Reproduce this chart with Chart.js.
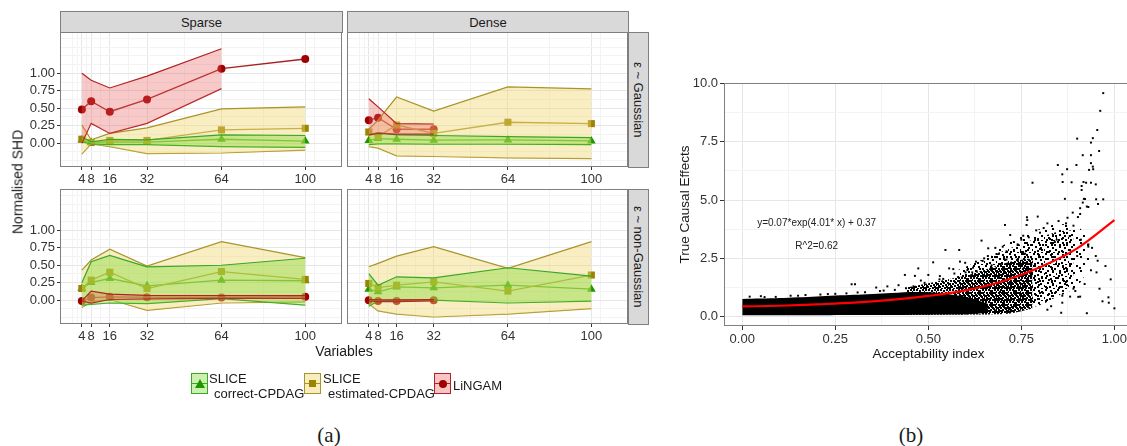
<!DOCTYPE html>
<html><head><meta charset="utf-8">
<script src="https://cdn.jsdelivr.net/npm/chart.js@4.4.1/dist/chart.umd.min.js"></script>
<style>
html,body{margin:0;padding:0;width:1127px;height:446px;overflow:hidden;background:#fff;font-family:'Liberation Sans',Arial,sans-serif;}
.box{position:absolute;}
canvas{display:block;}
.strip{position:absolute;background:#d9d9d9;border:1px solid #7f7f7f;box-sizing:border-box;color:#1a1a1a;font-size:13px;display:flex;align-items:center;justify-content:center;}
.vstrip{writing-mode:vertical-rl;}
.txt{position:absolute;color:#1a1a1a;white-space:nowrap;line-height:15px;}
.key{position:absolute;width:17px;height:21px;box-sizing:border-box;}
.kline{position:absolute;left:0;right:0;top:9px;height:1.3px;}
</style></head><body>

<div class="strip" style="left:60px;top:11px;width:283px;height:22px;">Sparse</div>
<div class="strip" style="left:347px;top:11px;width:282px;height:22px;">Dense</div>
<div class="strip vstrip" style="left:628px;top:32px;width:21px;height:136px;">ε ~ Gaussian</div>
<div class="strip vstrip" style="left:628px;top:189px;width:21px;height:136px;">ε ~ non-Gaussian</div>

<div class="box" style="left:20px;top:32px;"><canvas id="pTL" width="322" height="157"></canvas></div>
<div class="box" style="left:347px;top:32px;"><canvas id="pTR" width="281" height="157"></canvas></div>
<div class="box" style="left:20px;top:189px;"><canvas id="pBL" width="322" height="157"></canvas></div>
<div class="box" style="left:347px;top:189px;"><canvas id="pBR" width="281" height="157"></canvas></div>

<div class="txt" style="left:18px;top:182px;font-size:14px;transform:translate(-50%,-50%) rotate(-90deg);">Normalised SHD</div>
<div class="txt" style="left:344px;top:351px;font-size:14px;transform:translate(-50%,-50%);">Variables</div>

<!-- legend -->
<div class="key" style="left:191px;top:373px;border:1px solid #3aa628;background:rgba(120,215,40,0.38);">
  <div class="kline" style="background:#3aa628;"></div>
  <div style="position:absolute;left:3px;top:5px;width:0;height:0;border-left:5px solid transparent;border-right:5px solid transparent;border-bottom:9px solid #1e9600;"></div>
</div>
<div class="txt" style="left:209px;top:371px;font-size:13px;">SLICE</div>
<div class="txt" style="left:214px;top:386px;font-size:13px;">correct-CPDAG</div>

<div class="key" style="left:304px;top:373px;border:1px solid #a99428;background:rgba(240,215,110,0.45);">
  <div class="kline" style="background:#a99428;"></div>
  <div style="position:absolute;left:4px;top:6px;width:7px;height:7px;background:#9c8300;"></div>
</div>
<div class="txt" style="left:323px;top:371px;font-size:13px;">SLICE</div>
<div class="txt" style="left:328px;top:386px;font-size:13px;">estimated-CPDAG</div>

<div class="key" style="left:434px;top:373px;border:1px solid #b22222;background:rgba(235,90,90,0.35);">
  <div class="kline" style="background:#b22222;"></div>
  <div style="position:absolute;left:3.5px;top:5.5px;width:8px;height:8px;border-radius:50%;background:#a00000;"></div>
</div>
<div class="txt" style="left:453px;top:378px;font-size:13px;">LiNGAM</div>

<div class="txt" style="left:329px;top:435px;font-size:21px;font-family:'Liberation Serif','Times New Roman',serif;transform:translate(-50%,-50%);line-height:22px;">(a)</div>
<div class="txt" style="left:911px;top:435px;font-size:21px;font-family:'Liberation Serif','Times New Roman',serif;transform:translate(-50%,-50%);line-height:22px;">(b)</div>

<div class="box" style="left:673px;top:73px;"><canvas id="scat" width="460" height="289"></canvas></div>

<script>
// ---------- data: panel (a) ----------
const variables = [4, 8, 16, 32, 64, 100];
const xGridAll = [0, 2, 4, 6, 8, 12, 16, 24, 32, 48, 64, 82, 100, 104];
const yTickLabels = [0, 0.25, 0.5, 0.75, 1];
const yGridAll = [-0.25, -0.125, 0, 0.125, 0.25, 0.375, 0.5, 0.625, 0.75, 0.875, 1, 1.125, 1.25, 1.375, 1.5];

// Sparse, Gaussian
const sgCorrect = [0.047, 0.01, 0.02, 0.015, 0.057, 0.03];
const sgCorrectLo = [0.02, -0.01, -0.02, -0.02, -0.05, -0.06];
const sgCorrectHi = [0.09, 0.02, 0.057, 0.047, 0.12, 0.11];
const sgEstimated = [0.057, 0.01, 0.04, 0.04, 0.19, 0.213];
const sgEstimatedLo = [-0.156, -0.01, -0.05, -0.15, -0.14, -0.10];
const sgEstimatedHi = [0.26, 0.05, 0.14, 0.22, 0.49, 0.52];
const sgLingam = [0.483, 0.60, 0.45, 0.626, 1.066, 1.204];
const sgLingamLo = [0.0, 0.284, 0.14, 0.284, 0.78];
const sgLingamHi = [1.0, 0.90, 0.79, 0.96, 1.35];

// Dense, Gaussian
const dgCorrect = [0.04, 0.066, 0.057, 0.043, 0.047, 0.033];
const dgCorrectLo = [-0.02, -0.01, -0.01, -0.015, -0.015, -0.02];
const dgCorrectHi = [0.12, 0.15, 0.12, 0.11, 0.095, 0.08];
const dgEstimated = [0.16, 0.095, 0.26, 0.14, 0.30, 0.28];
const dgEstimatedLo = [-0.05, -0.07, -0.18, -0.19, -0.21, -0.22];
const dgEstimatedHi = [0.2, 0.33, 0.66, 0.46, 0.806, 0.777];
const dgLingam = [0.33, 0.365, 0.20, 0.20];
const dgLingamLo = [0.12, 0.14, 0.13, 0.13];
const dgLingamHi = [0.635, 0.52, 0.28, 0.275];

// Sparse, non-Gaussian
const snCorrect = [0.167, 0.254, 0.31, 0.206, 0.287, 0.278];
const snCorrectLo = [-0.07, -0.06, -0.04, -0.05, 0.024, -0.07];
const snCorrectHi = [0.25, 0.55, 0.64, 0.478, 0.50, 0.60];
const snEstimated = [0.167, 0.287, 0.40, 0.167, 0.41, 0.297];
const snEstimatedLo = [-0.105, -0.024, 0.01, -0.144, -0.04, -0.024];
const snEstimatedHi = [0.43, 0.574, 0.73, 0.488, 0.837, 0.608];
const snLingam = [-0.01, 0.038, 0.048, 0.043, 0.038, 0.048];
const snLingamLo = [-0.01, -0.04, 0.01, 0.02, 0.025, 0.025];
const snLingamHi = [-0.01, 0.13, 0.086, 0.07, 0.065, 0.065];

// Dense, non-Gaussian
const dnCorrect = [0.158, 0.12, 0.19, 0.177, 0.215, 0.158];
const dnCorrectLo = [-0.086, -0.01, 0, 0, -0.04, -0.014];
const dnCorrectHi = [0.38, 0.215, 0.335, 0.32, 0.464, 0.344];
const dnEstimated = [0.24, 0.18, 0.215, 0.263, 0.13, 0.36];
const dnEstimatedLo = [-0.05, -0.153, -0.2, -0.24, -0.2, -0.12];
const dnEstimatedHi = [0.478, 0.526, 0.63, 0.766, 0.455, 0.837];
const dnLingam = [0, -0.01, -0.01, 0];
const dnLingamLo = [-0.01, -0.02, -0.02, -0.01];
const dnLingamHi = [0.01, 0.005, 0.005, 0.01];

// ---------- data: panel (b) ----------
const xTicksB = [0, 0.25, 0.5, 0.75, 1];
const xGridB = [0, 0.125, 0.25, 0.375, 0.5, 0.625, 0.75, 0.875, 1];
const yTicksB = [0, 2.5, 5, 7.5, 10];
const yGridB = [0, 1.25, 2.5, 3.75, 5, 6.25, 7.5, 8.75, 10];

const fitX = [0, 0.1, 0.2, 0.3, 0.4, 0.5, 0.6, 0.7, 0.8, 0.9, 1.0];
const fitY = [0.44, 0.47, 0.53, 0.6, 0.72, 0.89, 1.13, 1.52, 2.12, 2.93, 4.14];

// density envelopes of the point cloud
const coreX = [0, 0.1, 0.2, 0.3, 0.4, 0.47, 0.53, 0.6, 0.66];
const coreHi = [0.76, 0.8, 0.87, 0.94, 1.02, 1.06, 1.02, 0.85, 0.55];
const coreLo = [0.06, 0.06, 0.06, 0.07, 0.07, 0.08, 0.09, 0.11, 0.16];
const denseX = [0.44, 0.52, 0.6, 0.66, 0.72, 0.78];
const denseHi = [1.25, 1.5, 1.75, 2.05, 2.35, 2.5];
const denseLo = [0.07, 0.08, 0.09, 0.1, 0.14, 0.35];
const mediumX = [0.58, 0.66, 0.73, 0.8, 0.85, 0.89];
const mediumHi = [2.0, 2.55, 3.0, 3.4, 3.65, 3.7];
const mediumLo = [0.1, 0.12, 0.2, 0.5, 0.9, 1.4];
const sparseX = [0.68, 0.76, 0.84, 0.9, 0.935];
const sparseHi = [2.9, 3.5, 3.95, 3.85, 3.3];
const sparseLo = [0.15, 0.4, 0.8, 1.3, 2.2];

const effectX = [0.970,0.962,0.954,0.942,0.937,0.900,0.959,0.915,0.937,0.848,0.898,0.937,0.942,0.932,0.943,0.873,0.860,0.780,0.861,0.885,0.917,0.924,0.937,0.950,0.912,0.912,0.867,0.918,0.921,0.951,0.970,0.915,0.956,0.926,0.930,0.908,0.888,0.908,0.765,0.794,0.874,0.902,0.706,0.764,0.766,
 1.0,0.984,0.968,0.976,0.937,0.952,0.857,0.881,0.908,0.926,0.903,0.94,0.93,0.955,0.91,0.89,0.87,0.85,0.83,0.82,0.80,0.86,0.895,0.92,
 0.473,0.513,0.546,0.583,0.643,0.661,0.437,0.464,0.585,0.599,0.628,0.646,0.556,0.567,0.605,0.618,0.5,0.531,0.294,0.303,0.755,0.75,0.70,0.72,0.68,0.69,0.73,0.71,0.74,0.66,0.81,0.835,0.845,0.79,0.77,0.82,0.65,0.6,0.62,0.57,0.53,0.48,0.42,0.39,0.36,
 0.02,0.05,0.09,0.13,0.17,0.21,0.25,0.28,0.33,0.37,0.41,0.44,0.06,0.15,0.23,0.31,0.38,0.46,0.49,0.54,0.58,0.63,0.67,0.71,0.76,0.8,0.84,0.88,0.9,0.93,0.96,0.985,0.99,0.95,0.89,0.86];
const effectY = [9.58,8.82,8.00,7.65,7.46,7.63,7.10,6.92,6.92,6.50,6.50,6.58,6.43,6.29,6.32,6.32,6.10,5.74,5.77,5.76,5.77,5.74,5.74,5.67,5.60,5.43,5.05,5.05,5.04,5.03,5.03,4.89,4.83,4.72,4.70,4.65,4.46,4.40,4.26,4.29,4.24,4.27,3.93,3.93,4.14,
 0.36,0.83,0.66,2.17,1.99,1.90,0.17,0.86,0.86,0.15,0.85,2.95,3.1,2.4,3.3,3.9,4.0,4.1,0.45,0.3,3.6,0.9,1.1,1.4,
 2.07,2.33,2.86,2.86,3.26,2.93,1.79,1.75,2.36,2.31,2.36,2.39,2.07,2.04,2.0,1.9,1.79,1.74,1.39,1.39,3.47,3.3,3.0,3.5,2.95,2.7,3.2,2.8,3.1,2.6,3.8,3.5,3.3,3.7,3.4,4.0,2.5,1.9,2.1,1.85,1.6,1.55,1.35,1.3,1.25,
 0.86,0.88,0.85,0.9,0.93,0.95,0.98,1.0,1.05,1.1,1.15,1.22,0.84,0.9,0.97,1.04,1.12,1.3,1.45,1.62,1.7,1.95,2.2,2.45,2.7,2.9,3.2,3.45,2.6,3.0,1.2,0.6,1.6,2.6,1.2,0.6];

const annotationText = ['y=0.07*exp(4.01* x) + 0.37', 'R^2=0.62'];
const annotationX = [0.2, 0.2];
const annotationY = [4.0, 3.0];

// ---------- styling ----------
Chart.defaults.font.family = "'Liberation Sans', Arial, sans-serif";
const GREEN = {line:'#3aa628', fill:'rgba(120,215,40,0.38)', point:'#1e9600'};
const YELLOW = {line:'#a99428', fill:'rgba(240,215,110,0.42)', point:'#9c8300'};
const RED = {line:'#b22222', fill:'rgba(235,90,90,0.33)', point:'#a00000'};

// dot textures used to render point density
const DENSE_DOTS = [[0,0],[3,0],[6,1],[9,0],[1,3],[4,3],[8,3],[10,5],[0,6],[3,6],[6,5],[8,7],[2,9],[5,8],[7,10],[10,10],[0,10],[4,11],[11,2],[5,4],[1,8],[9,9],[11,7]];
const MEDIUM_DOTS = [[0,0],[5,1],[9,3],[2,5],[7,6],[11,8],[4,9],[8,11],[1,10],[6,3]];
const SPARSE_DOTS = [[1,1],[8,3],[4,8],[11,10],[0,12]];
function dotPattern(w, h, dots){
  const c = document.createElement('canvas'); c.width = w; c.height = h;
  const g = c.getContext('2d'); g.fillStyle = '#000';
  dots.forEach(d => g.fillRect(d[0], d[1], 2, 2));
  return g.createPattern(c, 'repeat');
}

function xy(xs, ys){ const out=[]; xs.forEach((x,i)=>{ if(ys[i]!==null && ys[i]!==undefined) out.push({x:x, y:ys[i]}); }); return out; }
function noPad(s){ s.paddingTop = 0; s.paddingBottom = 0; s.paddingLeft = 0; s.paddingRight = 0; }

const borderPlugin = {
  id:'pborder',
  afterDraw(chart){
    const {ctx, chartArea:a} = chart;
    ctx.save(); ctx.strokeStyle='#7f7f7f'; ctx.lineWidth=1;
    ctx.strokeRect(Math.round(a.left)+0.5, Math.round(a.top)+0.5, Math.round(a.right-a.left)-1, Math.round(a.bottom-a.top)-1);
    ctx.restore();
  }
};

function ribbon(lo, hi, col, order){
  return [
    {type:'line', data: xy(variables, hi), borderColor: col.line, borderWidth:1.2, backgroundColor: col.fill, fill:'+1', pointRadius:0, tension:0, order:order},
    {type:'line', data: xy(variables, lo), borderColor: col.line, borderWidth:1.2, fill:false, pointRadius:0, tension:0, order:order}
  ];
}
function meanLine(m, col, style, r, lineCol){
  return {type:'line', data: xy(variables, m), borderColor: lineCol || col.line, borderWidth:1.3, pointStyle: style, pointRadius: r,
    pointBackgroundColor: col.point, pointBorderColor: col.point, pointBorderWidth:0, fill:false, tension:0, order:10};
}

function panel(id, showY, d){
  const datasets = [].concat(
    ribbon(d.eLo, d.eHi, YELLOW, 3),
    ribbon(d.cLo, d.cHi, GREEN, 2),
    ribbon(d.lLo, d.lHi, RED, 1),
    [meanLine(d.e, YELLOW, 'rect', 5), meanLine(d.c, GREEN, 'triangle', 5), meanLine(d.l, RED, 'circle', 4, '#a52222')]
  );
  new Chart(document.getElementById(id), {
    type:'line',
    data:{datasets:datasets},
    plugins:[borderPlugin],
    options:{
      responsive:false, animation:false, events:[],
      layout:{padding:0, autoPadding:false},
      plugins:{legend:{display:false}, tooltip:{enabled:false}},
      scales:{
        x:{type:'linear', min:-5.4, max:115.8,
          afterBuildTicks: s => { s.ticks = xGridAll.map(v=>({value:v})); },
          afterFit: s => { s.height = 22; noPad(s); },
          ticks:{autoSkip:false, maxRotation:0, minRotation:0, padding:2, color:'#333', font:{size:13},
            callback: v => variables.includes(v) ? String(v) : ''},
          grid:{color: c => (c.tick && variables.includes(c.tick.value)) ? '#e6e6e6' : '#f3f3f3',
            drawTicks:true, tickLength:3, tickColor: c => (c.tick && variables.includes(c.tick.value)) ? '#333' : 'rgba(0,0,0,0)'},
          border:{display:false}},
        y:{type:'linear', min:-0.34, max:1.59,
          afterBuildTicks: s => { s.ticks = yGridAll.map(v=>({value:v})); },
          afterFit: s => { s.width = showY ? 40 : 0; noPad(s); },
          ticks:{display:showY, autoSkip:false, padding:2, color:'#333', font:{size:13},
            callback: v => yTickLabels.includes(v) ? v.toFixed(2) : ''},
          grid:{color: c => (c.tick && yTickLabels.includes(c.tick.value)) ? '#e6e6e6' : '#f3f3f3',
            drawTicks:showY, tickLength:3, tickColor: c => (c.tick && yTickLabels.includes(c.tick.value)) ? '#333' : 'rgba(0,0,0,0)'},
          border:{display:false}}
      }
    }
  });
}

panel('pTL', true, {c:sgCorrect, cLo:sgCorrectLo, cHi:sgCorrectHi, e:sgEstimated, eLo:sgEstimatedLo, eHi:sgEstimatedHi, l:sgLingam, lLo:sgLingamLo, lHi:sgLingamHi});
panel('pTR', false, {c:dgCorrect, cLo:dgCorrectLo, cHi:dgCorrectHi, e:dgEstimated, eLo:dgEstimatedLo, eHi:dgEstimatedHi, l:dgLingam, lLo:dgLingamLo, lHi:dgLingamHi});
panel('pBL', true, {c:snCorrect, cLo:snCorrectLo, cHi:snCorrectHi, e:snEstimated, eLo:snEstimatedLo, eHi:snEstimatedHi, l:snLingam, lLo:snLingamLo, lHi:snLingamHi});
panel('pBR', false, {c:dnCorrect, cLo:dnCorrectLo, cHi:dnCorrectHi, e:dnEstimated, eLo:dnEstimatedLo, eHi:dnEstimatedHi, l:dnLingam, lLo:dnLingamLo, lHi:dnLingamHi});

// ---------- scatter (b) ----------
const annotPlugin = {
  id:'annot',
  afterDatasetsDraw(chart){
    const {ctx, scales:{x, y}} = chart;
    ctx.save(); ctx.fillStyle='#222'; ctx.font="10px 'Liberation Sans', Arial, sans-serif";
    ctx.textAlign='center'; ctx.textBaseline='middle';
    annotationText.forEach((t,i)=>{ ctx.fillText(t, x.getPixelForValue(annotationX[i]), y.getPixelForValue(annotationY[i])); });
    ctx.restore();
  }
};
function band(xs, lo, hi, fillStyle, order){
  return [
    {type:'line', data: xy(xs, hi), borderWidth:0, borderColor:'rgba(0,0,0,0)', backgroundColor:fillStyle, fill:'+1', pointRadius:0, tension:0.3, order:order},
    {type:'line', data: xy(xs, lo), borderWidth:0, borderColor:'rgba(0,0,0,0)', fill:false, pointRadius:0, tension:0.3, order:order}
  ];
}
new Chart(document.getElementById('scat'), {
  type:'line',
  data:{datasets:[].concat(
    band(sparseX, sparseLo, sparseHi, dotPattern(14, 14, SPARSE_DOTS), 6),
    band(mediumX, mediumLo, mediumHi, dotPattern(12, 12, MEDIUM_DOTS), 5),
    band(denseX, denseLo, denseHi, dotPattern(12, 12, DENSE_DOTS), 4),
    band(coreX, coreLo, coreHi, '#000', 3),
    [{type:'line', showLine:false, data: xy(effectX, effectY), pointStyle:'rect', pointRadius:1.4, pointBackgroundColor:'#000', pointBorderWidth:0, order:1},
     {type:'line', data: xy(fitX, fitY), borderColor:'#ff0000', borderWidth:2.2, pointRadius:0, cubicInterpolationMode:'monotone', fill:false, order:0}]
  )},
  plugins:[borderPlugin, annotPlugin],
  options:{
    responsive:false, animation:false, events:[],
    layout:{padding:{top:10, left:0, right:0, bottom:0}, autoPadding:false},
    plugins:{legend:{display:false}, tooltip:{enabled:false}},
    scales:{
      x:{type:'linear', min:-0.049, max:1.05,
        afterBuildTicks: s => { s.ticks = xGridB.map(v=>({value:v})); },
        afterFit: s => { s.height = 36; noPad(s); },
        title:{display:true, text:'Acceptability index', color:'#1a1a1a', font:{size:13.5}, padding:{top:0, bottom:0}},
        ticks:{autoSkip:false, maxRotation:0, padding:2, color:'#333', font:{size:13},
          callback: v => xTicksB.includes(v) ? v.toFixed(2) : ''},
        grid:{color: c => (c.tick && xTicksB.includes(c.tick.value)) ? '#e6e6e6' : '#f3f3f3',
          drawTicks:true, tickLength:4, tickColor: c => (c.tick && xTicksB.includes(c.tick.value)) ? '#333' : 'rgba(0,0,0,0)'},
        border:{display:false}},
      y:{type:'linear', min:-0.398, max:10.013,
        afterBuildTicks: s => { s.ticks = yGridB.map(v=>({value:v})); },
        afterFit: s => { s.width = 51; noPad(s); },
        title:{display:true, text:'True Causal Effects', color:'#1a1a1a', font:{size:13.5}, padding:{top:4, bottom:0}},
        ticks:{autoSkip:false, padding:2, color:'#333', font:{size:13},
          callback: v => yTicksB.includes(v) ? v.toFixed(1) : ''},
        grid:{color: c => (c.tick && yTicksB.includes(c.tick.value)) ? '#e6e6e6' : '#f3f3f3',
          drawTicks:true, tickLength:4, tickColor: c => (c.tick && yTicksB.includes(c.tick.value)) ? '#333' : 'rgba(0,0,0,0)'},
        border:{display:false}}
    }
  }
});
</script>
</body></html>
